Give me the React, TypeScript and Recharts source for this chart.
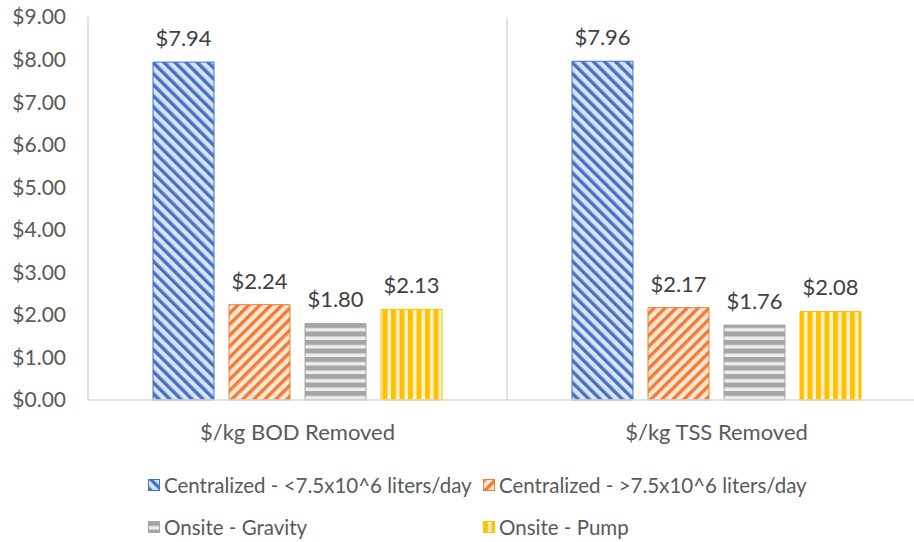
import React from 'react';
import { BarChart, Bar, XAxis, YAxis, CartesianGrid, LabelList } from 'recharts';

const categories = ['$/kg BOD Removed', '$/kg TSS Removed'];
const centralizedSmall = [7.94, 7.96];
const centralizedLarge = [2.24, 2.17];
const onsiteGravity = [1.8, 1.76];
const onsitePump = [2.13, 2.08];
const yTicks = [0, 1, 2, 3, 4, 5, 6, 7, 8, 9];

type Hatch = 'down' | 'up' | 'horizontal' | 'vertical';

const series: { key: string; name: string; values: number[]; fg: string; bg: string; hatch: Hatch }[] = [
  { key: 'cs', name: 'Centralized - <7.5x10^6 liters/day', values: centralizedSmall, fg: '#4472c4', bg: '#dae3f3', hatch: 'down' },
  { key: 'cl', name: 'Centralized - >7.5x10^6 liters/day', values: centralizedLarge, fg: '#ed7d31', bg: '#fbe5d6', hatch: 'up' },
  { key: 'og', name: 'Onsite - Gravity', values: onsiteGravity, fg: '#a5a5a5', bg: '#ededed', hatch: 'horizontal' },
  { key: 'op', name: 'Onsite - Pump', values: onsitePump, fg: '#ffc000', bg: '#fff2cc', hatch: 'vertical' },
];

const data = categories.map((name, i) => {
  const row: Record<string, string | number> = { name };
  series.forEach(s => { row[s.key] = s.values[i]; });
  return row;
});

const FONT = 'Lato, "Open Sans", sans-serif';

// hatched fills: diagonal stripes are vertical bars rotated ±45°
function HatchPattern({ id, hatch, fg, bg }: { id: string; hatch: Hatch; fg: string; bg: string }) {
  if (hatch === 'down' || hatch === 'up') {
    return (
      <pattern id={id} width={7.8} height={8} patternUnits="userSpaceOnUse"
        patternTransform={hatch === 'down' ? 'rotate(-45)' : 'rotate(45)'}>
        <rect width={7.8} height={8} fill={bg} />
        <rect width={3.4} height={8} fill={fg} />
      </pattern>
    );
  }
  if (hatch === 'horizontal') {
    return (
      <pattern id={id} width={8} height={8.5} patternUnits="userSpaceOnUse">
        <rect width={8} height={8.5} fill={bg} />
        <rect width={8} height={5} fill={fg} />
      </pattern>
    );
  }
  return (
    <pattern id={id} width={8.5} height={8} patternUnits="userSpaceOnUse">
      <rect width={8.5} height={8} fill={bg} />
      <rect width={5} height={8} fill={fg} />
    </pattern>
  );
}

function LegendItem({ s }: { s: typeof series[number] }) {
  return (
    <div style={{ display: 'flex', alignItems: 'center' }}>
      <svg width={12} height={12} style={{ marginRight: 4 }}>
        <defs>
          <HatchPattern id={`lg-${s.key}`} hatch={s.hatch} fg={s.fg} bg={s.bg} />
        </defs>
        <rect x={0.5} y={0.5} width={11} height={11} fill={`url(#lg-${s.key})`} stroke={s.fg} />
      </svg>
      <span>{s.name}</span>
    </div>
  );
}

export default function App() {
  return (
    <div style={{
      position: 'fixed', left: 0, top: 0, width: 914, height: 542,
      overflow: 'hidden', background: '#fff', fontFamily: FONT,
    }}>
      <BarChart width={930} height={542} data={data}
        margin={{ top: 17, right: 4, left: 0, bottom: 100 }}
        barSize={61} barGap={15}>
        <defs>
          {series.map(s => (
            <HatchPattern key={s.key} id={`bar-${s.key}`} hatch={s.hatch} fg={s.fg} bg={s.bg} />
          ))}
        </defs>
        <CartesianGrid horizontal={false} stroke="#d9d9d9" strokeWidth={1.5}
          verticalCoordinatesGenerator={({ offset }: any) => [offset.left + offset.width / 2]} />
        <XAxis dataKey="name" height={42} axisLine={{ stroke: '#d9d9d9', strokeWidth: 1.5 }}
          tickLine={false} tickSize={0} tickMargin={24}
          tick={{ fill: '#595959', fontSize: 22, fontFamily: FONT }} />
        <YAxis width={88} domain={[0, 9]} ticks={yTicks} interval={0}
          axisLine={{ stroke: '#d9d9d9', strokeWidth: 1.5 }} tickLine={false} tickSize={0} tickMargin={22}
          tickFormatter={(v: number) => `$${v.toFixed(2)}`}
          tick={{ fill: '#595959', fontSize: 21, fontFamily: FONT }} />
        {series.map(s => (
          <Bar key={s.key} dataKey={s.key} name={s.name} fill={`url(#bar-${s.key})`}
            stroke={s.fg} strokeWidth={1} isAnimationActive={false}>
            <LabelList dataKey={s.key} position="top" offset={16}
              formatter={(v: any) => `$${Number(v).toFixed(2)}`}
              style={{ fill: '#404040', fontSize: 22, fontFamily: FONT }} />
          </Bar>
        ))}
      </BarChart>
      <div style={{
        position: 'absolute', left: 148, top: 472, width: 760,
        display: 'grid', gridTemplateColumns: '335px 400px', rowGap: 16,
        fontSize: 20.5, color: '#595959', lineHeight: '26px',
      }}>
        {series.map(s => <LegendItem key={s.key} s={s} />)}
      </div>
    </div>
  );
}
